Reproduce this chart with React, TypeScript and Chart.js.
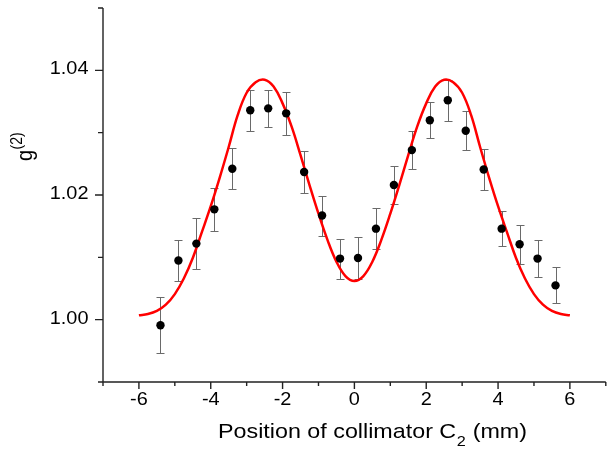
import React, { useEffect, useRef } from 'react';
import { Chart, registerables } from 'chart.js';

Chart.register(...registerables);

// Measured data: collimator position (mm), g(2) and its error
const positions = [-5.4, -4.9, -4.4, -3.9, -3.4, -2.9, -2.4, -1.9, -1.4, -0.9, -0.4, 0.1, 0.6, 1.1, 1.6, 2.1, 2.6, 3.1, 3.6, 4.1, 4.6, 5.1, 5.6];
const g2Values = [0.9991, 1.0095, 1.0122, 1.0177, 1.0242, 1.0336, 1.0339, 1.0331, 1.0237, 1.0167, 1.0098, 1.0099, 1.0146, 1.0216, 1.0272, 1.0320, 1.0352, 1.0303, 1.0241, 1.0146, 1.0121, 1.0098, 1.0055];
const g2Errors = [0.0045, 0.0033, 0.0041, 0.0034, 0.0033, 0.0033, 0.0030, 0.0034, 0.0033, 0.0032, 0.0032, 0.0034, 0.0033, 0.0031, 0.0031, 0.0029, 0.0033, 0.0031, 0.0033, 0.0028, 0.0031, 0.0030, 0.0029];

// Fit curve
const fitPositions = [-6, -5.75, -5.5, -5.25, -5, -4.75, -4.5, -4.25, -4, -3.75, -3.5, -3.25, -3, -2.75, -2.5, -2.25, -2, -1.75, -1.5, -1.25, -1, -0.75, -0.5, -0.25, 0, 0.25, 0.5, 0.75, 1, 1.25, 1.5, 1.75, 2, 2.25, 2.5, 2.75, 3, 3.25, 3.5, 3.75, 4, 4.25, 4.5, 4.75, 5, 5.25, 5.5, 5.75, 6];
const fitValues = [1.0007, 1.0009, 1.0014, 1.0024, 1.0041, 1.0066, 1.0099, 1.0140, 1.0182, 1.0228, 1.0277, 1.0328, 1.0364, 1.0381, 1.0385, 1.0374, 1.0347, 1.0310, 1.0264, 1.0216, 1.0170, 1.0128, 1.0093, 1.0070, 1.0062, 1.0070, 1.0093, 1.0128, 1.0170, 1.0216, 1.0264, 1.0310, 1.0347, 1.0374, 1.0385, 1.0381, 1.0364, 1.0328, 1.0277, 1.0228, 1.0182, 1.0140, 1.0099, 1.0066, 1.0041, 1.0024, 1.0014, 1.0009, 1.0007];

// Axis ticks
const xMajorTicks = [-6, -4, -2, 0, 2, 4, 6];
const xTickLabels = ['-6', '-4', '-2', '0', '2', '4', '6'];
const xMinorTicks = [-7, -5, -3, -1, 1, 3, 5, 7];
const yMajorTicks = [1.0, 1.02, 1.04];
const yTickLabels = ['1.00', '1.02', '1.04'];
const yMinorTicks = [0.99, 1.01, 1.03, 1.05];

const xTitleMain = 'Position of collimator C';
const xTitleSub = '2';
const xTitleEnd = ' (mm)';
const yTitleMain = 'g';
const yTitleSup = '(2)';

const FONT = '"Liberation Sans", Arial, Helvetica, sans-serif';
const SX = 1.12;

function drawText(ctx: CanvasRenderingContext2D, text: string, x: number, y: number, align: CanvasTextAlign, size: number) {
  ctx.save();
  ctx.translate(x, y);
  ctx.scale(SX, 1);
  ctx.font = `${size}px ${FONT}`;
  ctx.textAlign = align;
  ctx.textBaseline = 'alphabetic';
  ctx.fillStyle = '#000';
  ctx.fillText(text, 0, 0);
  ctx.restore();
}

const errorBarPlugin = {
  id: 'errorBars',
  beforeDatasetsDraw(chart: any) {
    const { ctx } = chart;
    const x = chart.scales.x;
    const y = chart.scales.y;
    ctx.save();
    ctx.strokeStyle = '#6a6a6a';
    ctx.lineWidth = 1;
    positions.forEach((p, i) => {
      const px = Math.round(x.getPixelForValue(p)) + 0.5;
      const top = Math.round(y.getPixelForValue(g2Values[i] + g2Errors[i])) + 0.5;
      const bot = Math.round(y.getPixelForValue(g2Values[i] - g2Errors[i])) + 0.5;
      ctx.beginPath();
      ctx.moveTo(px, top);
      ctx.lineTo(px, bot);
      ctx.moveTo(px - 4, top);
      ctx.lineTo(px + 4, top);
      ctx.moveTo(px - 4, bot);
      ctx.lineTo(px + 4, bot);
      ctx.stroke();
    });
    ctx.restore();
  },
};

const axesPlugin = {
  id: 'axesDecor',
  afterDraw(chart: any) {
    const { ctx } = chart;
    const x = chart.scales.x;
    const y = chart.scales.y;
    const left = x.left;
    const bottom = y.bottom;
    ctx.save();
    ctx.strokeStyle = '#222';
    ctx.lineWidth = 1.4;
    ctx.beginPath();
    ctx.moveTo(left, y.top);
    ctx.lineTo(left, bottom);
    ctx.moveTo(left, bottom);
    ctx.lineTo(x.right, bottom);
    yMajorTicks.forEach((v) => {
      const py = y.getPixelForValue(v);
      ctx.moveTo(left - 8, py);
      ctx.lineTo(left, py);
    });
    yMinorTicks.forEach((v) => {
      const py = y.getPixelForValue(v);
      ctx.moveTo(left - 5, py);
      ctx.lineTo(left, py);
    });
    xMajorTicks.forEach((v) => {
      const px = x.getPixelForValue(v);
      ctx.moveTo(px, bottom);
      ctx.lineTo(px, bottom + 7);
    });
    xMinorTicks.forEach((v) => {
      const px = x.getPixelForValue(v);
      ctx.moveTo(px, bottom);
      ctx.lineTo(px, bottom + 4);
    });
    ctx.stroke();
    ctx.restore();

    // tick labels
    yMajorTicks.forEach((v, i) => {
      drawText(ctx, yTickLabels[i], left - 14.5, y.getPixelForValue(v) + 4, 'right', 17.8);
    });
    xMajorTicks.forEach((v, i) => {
      drawText(ctx, xTickLabels[i], x.getPixelForValue(v), bottom + 23, 'center', 17.8);
    });

    // x title with subscript
    ctx.save();
    const tSize = 20.8;
    const sSize = 14.5;
    ctx.font = `${tSize}px ${FONT}`;
    const w1 = ctx.measureText(xTitleMain).width * SX;
    ctx.font = `${sSize}px ${FONT}`;
    const w2 = ctx.measureText(xTitleSub).width * SX;
    ctx.restore();
    const startX = 218;
    const base = bottom + 56;
    drawText(ctx, xTitleMain, startX, base, 'left', tSize);
    drawText(ctx, xTitleSub, startX + w1 + 0.5, base + 8, 'left', sSize);
    drawText(ctx, xTitleEnd, startX + w1 + w2 + 1, base, 'left', tSize);

    // y title with superscript (rotated)
    ctx.save();
    ctx.translate(31.5, 161);
    ctx.rotate(-Math.PI / 2);
    ctx.scale(1, SX);
    ctx.fillStyle = '#000';
    ctx.textBaseline = 'alphabetic';
    ctx.textAlign = 'left';
    ctx.font = `20px ${FONT}`;
    ctx.fillText(yTitleMain, 0, 0);
    const gw = ctx.measureText(yTitleMain).width;
    ctx.font = `14px ${FONT}`;
    ctx.fillText(yTitleSup, gw + 0.5, -8.3);
    ctx.restore();
  },
};

export default function App() {
  const ref = useRef<HTMLCanvasElement>(null);
  useEffect(() => {
    const chart = new Chart(ref.current as HTMLCanvasElement, {
      type: 'scatter',
      data: {
        datasets: [
          {
            type: 'scatter',
            data: positions.map((p, i) => ({ x: p, y: g2Values[i] })),
            pointRadius: 4.2,
            pointBackgroundColor: '#000',
            pointBorderWidth: 0,
            showLine: false,
          } as any,
          {
            type: 'line',
            data: fitPositions.map((p, i) => ({ x: p, y: fitValues[i] })),
            borderColor: '#ff0000',
            borderWidth: 2.5,
            pointRadius: 0,
            tension: 0.4,
            fill: false,
          } as any,
        ],
      },
      options: {
        animation: false,
        responsive: false,
        maintainAspectRatio: false,
        layout: { padding: { top: 8, left: 0, right: 0, bottom: 0 } },
        plugins: { legend: { display: false }, tooltip: { enabled: false } },
        scales: {
          x: {
            type: 'linear',
            min: -7,
            max: 7,
            ticks: { display: false },
            grid: { display: false, drawTicks: false },
            border: { display: false },
            afterFit(s: any) {
              s.height = 67;
              s.paddingLeft = 0;
              s.paddingRight = 0;
            },
          },
          y: {
            type: 'linear',
            min: 0.99,
            max: 1.05,
            ticks: { display: false },
            grid: { display: false, drawTicks: false },
            border: { display: false },
            afterFit(s: any) {
              s.width = 103;
              s.paddingTop = 0;
              s.paddingBottom = 0;
            },
          },
        },
      } as any,
      plugins: [errorBarPlugin, axesPlugin],
    });
    return () => chart.destroy();
  }, []);
  return (
    <div style={{ position: 'absolute', left: 0, top: 0, width: 610, height: 449, background: '#fff' }}>
      <canvas ref={ref} width={610} height={449} style={{ display: 'block', width: 610, height: 449 }} />
    </div>
  );
}
